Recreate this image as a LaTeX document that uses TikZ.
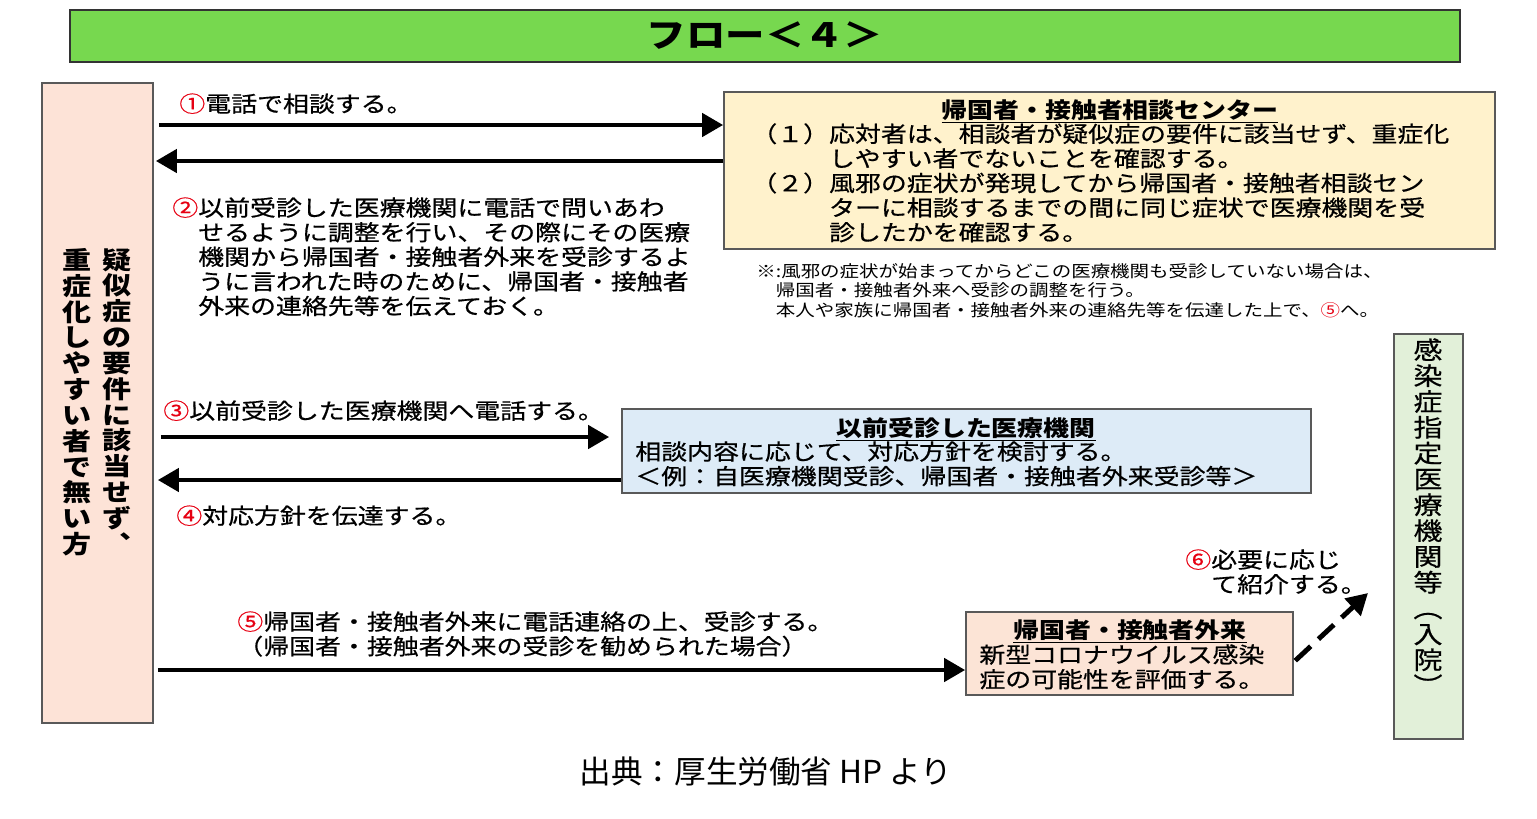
\documentclass[tikz,border=0pt]{standalone}
\usepackage{fontspec}
\setmainfont{Noto Sans CJK JP}[FakeStretch=1.18, UprightFeatures={FakeBold=0.6}]
\newfontfamily\notefamily{Noto Sans CJK JP}[FakeStretch=1.18]
\newfontfamily\captionfont{Noto Sans CJK JP}
\usetikzlibrary{arrows.meta, positioning, fit}
\definecolor{titlegreen}{HTML}{77D84F}
\definecolor{personbg}{HTML}{FDE3D7}
\definecolor{consultbg}{HTML}{FFF2CC}
\definecolor{prevbg}{HTML}{DDEBF7}
\definecolor{outptbg}{HTML}{FCE4D6}
\definecolor{desigbg}{HTML}{E2F0D9}
\definecolor{numred}{HTML}{E60012}
\newcommand{\circno}[1]{\textcolor{numred}{#1}}
\newcommand{\bodyfont}{\fontsize{12.5}{14}\selectfont}
\newcommand{\notefont}{\notefamily\fontsize{9.4}{11.1}\selectfont}
\newcommand{\tatefont}{\fontsize{14}{14.7}\selectfont}
\tikzset{
    panel/.style={draw=black!65, line width=0.9pt, inner sep=0pt}, % boxes
    flowarrow/.style={line width=2.8pt, -{Triangle[length=12pt,width=13pt]}},
    referarrow/.style={flowarrow, dash pattern=on 12pt off 6pt},
    bodytext/.style={inner sep=0pt, font=\bodyfont, align=left},
    notetext/.style={inner sep=0pt, font=\notefont, align=left},
    tatetext/.style={inner sep=0pt, font=\tatefont, align=center},
}

\begin{document}
\begin{tikzpicture}[x=0.02cm, y=-0.02cm]
    \useasboundingbox (0,0) rectangle (1537,818);
    % Header
    \node[panel, draw=black!80, fill=titlegreen, fit={(70,10) (1460,62)}] (header) {};
    \node[inner sep=0pt, font=\fontsize{19}{20}\selectfont\bfseries] (headtext) at (header.center) {フロー＜４＞};

    % Boxes
    \node[panel, fill=personbg, fit={(42,83) (153,723)}] (person) {};
    \node[panel, fill=consultbg, fit={(724,92) (1495,249)}] (consult) {};
    \node[panel, fill=prevbg, fit={(622,409) (1311,493)}] (prevhosp) {};
    \node[panel, fill=outptbg, fit={(966,612) (1293,695)}] (outpt) {};
    \node[panel, fill=desigbg, fit={(1394,334) (1463,739)}] (desig) {};

    % Vertical texts
    \node[tatetext, font=\tatefont\bfseries, anchor=north] (cond) at (117,248)
        {疑\\似\\症\\の\\要\\件\\に\\該\\当\\せ\\ず\\︑};
    \node[tatetext, font=\tatefont\bfseries, anchor=north] (cond2) at (77,248)
        {重\\症\\化\\し\\や\\す\\い\\者\\で\\無\\い\\方};
    \node[tatetext, anchor=north] (desigtext) at (1428,338)
        {感\\染\\症\\指\\定\\医\\療\\機\\関\\等\\︵\\入\\院\\︶};

    % Box contents
    \node[bodytext, font=\bodyfont\bfseries, anchor=base] (consulthead) at (1110,118)
        {\underline{帰国者・接触者相談センター}};
    \node[bodytext, anchor=north west] (consultbody) at (751,123)
        {（１）応対者は、相談者が疑似症の要件に該当せず、重症化\\
         \phantom{（１）}しやすい者でないことを確認する。\\
         （２）風邪の症状が発現してから帰国者・接触者相談セン\\
         \phantom{（２）}ターに相談するまでの間に同じ症状で医療機関を受\\
         \phantom{（２）}診したかを確認する。};
    \node[notetext, anchor=north west] (consultnote) at (756,263)
        {※:風邪の症状が始まってからどこの医療機関も受診していない場合は、\\
         \phantom{※}帰国者・接触者外来へ受診の調整を行う。\\
         \phantom{※}本人や家族に帰国者・接触者外来の連絡先等を伝達した上で、\circno{⑤}へ。};
    \node[bodytext, font=\bodyfont\bfseries, anchor=base] (prevhead) at (966,436)
        {\underline{以前受診した医療機関}};
    \node[bodytext, anchor=north west] (prevbody) at (635,441)
        {相談内容に応じて、対応方針を検討する。\\
         ＜例：自医療機関受診、帰国者・接触者外来受診等＞};
    \node[bodytext, font=\bodyfont\bfseries, anchor=base] (outpthead) at (1130,638)
        {\underline{帰国者・接触者外来}};
    \node[bodytext, anchor=north west] (outptbody) at (979,644)
        {新型コロナウイルス感染\\
         症の可能性を評価する。};

    % Steps
    \node[bodytext, anchor=base west] (step1) at (179,112) {\circno{①}電話で相談する。};
    \node[bodytext, anchor=north west] (step2) at (172,197)
        {\circno{②}以前受診した医療機関に電話で問いあわ\\
         \phantom{②}せるように調整を行い、その際にその医療\\
         \phantom{②}機関から帰国者・接触者外来を受診するよ\\
         \phantom{②}うに言われた時のために、帰国者・接触者\\
         \phantom{②}外来の連絡先等を伝えておく。};
    \node[bodytext, anchor=base west] (step3) at (163,419) {\circno{③}以前受診した医療機関へ電話する。};
    \node[bodytext, anchor=base west] (step4) at (176,524) {\circno{④}対応方針を伝達する。};
    \node[bodytext, anchor=north west] (step5) at (237,611)
        {\circno{⑤}帰国者・接触者外来に電話連絡の上、受診する。\\
         （帰国者・接触者外来の受診を勧められた場合）};
    \node[bodytext, anchor=north west] (step6) at (1185,549)
        {\circno{⑥}必要に応じ\\
         \phantom{⑥}て紹介する。};

    % Arrows
    \draw[flowarrow, shorten <=0.1cm] (person.east |- 0,125) -- (consult.west |- 0,125);
    \draw[flowarrow, shorten >=0.04cm] (consult.west |- 0,161) -- (person.east |- 0,161);
    \draw[flowarrow, shorten <=0.14cm, shorten >=0.24cm] (person.east |- 0,437) -- (prevhosp.west |- 0,437);
    \draw[flowarrow, shorten >=0.08cm] (prevhosp.west |- 0,480) -- (person.east |- 0,480);
    \draw[flowarrow, shorten <=0.08cm] (person.east |- 0,670) -- (outpt.west |- 0,670);
    \coordinate (refer) at (1368,593);
    \draw[referarrow, shorten <=0.04cm] (outpt.east |- 0,662) -- (refer);

    % Source
    \node[font=\captionfont\fontsize{18}{20}\selectfont] (source) at (766,772) {出典：厚生労働省 HP より};
\end{tikzpicture}
\end{document}
